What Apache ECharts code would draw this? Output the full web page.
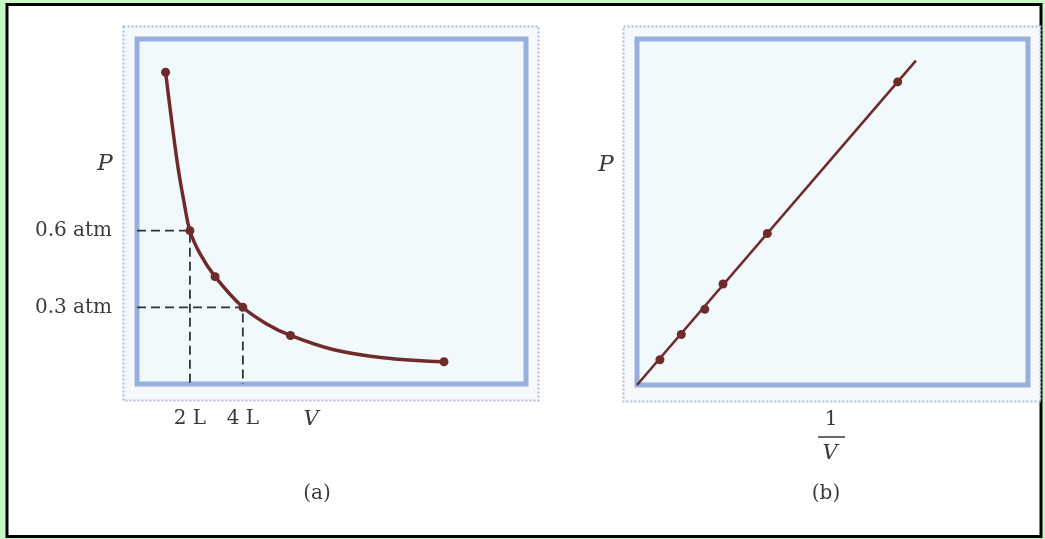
<!DOCTYPE html>
<html>
<head>
<meta charset="utf-8">
<script src="https://cdn.jsdelivr.net/npm/echarts@6/dist/echarts.min.js"></script>
<style>
html,body{margin:0;padding:0;background:#fff;}
#c{width:1045px;height:539px;}
</style>
</head>
<body>
<div id="c"></div>
<script>
// Panel (a): marked points, P versus V
const aVolume   = [1.08, 2, 2.95, 4, 5.8, 11.6];
const aPressure = [1.22, 0.6, 0.42, 0.3, 0.19, 0.087];
// Panel (a): positions along the drawn curve
const aCurveV = [1.08, 1.31, 1.56, 1.78, 2.0, 2.38, 2.95, 4.0, 4.9, 5.8, 7.4, 9.3, 11.6];
const aCurveP = [1.22, 1.03, 0.84, 0.71, 0.6, 0.51, 0.42, 0.3, 0.235, 0.19, 0.135, 0.103, 0.087];
// dashed guide lines in (a)
const aGuideV = [2, 4];
const aGuideP = [0.6, 0.3];
// Panel (b): P versus 1/V
const bInvVolume = [0.088, 0.17, 0.26, 0.33, 0.5, 1.0];
const bPressure  = [0.1, 0.2, 0.3, 0.4, 0.6, 1.2];
// straight line through origin in (b)
const bLineX = [0, 1.07];
const bLineP = [0, 1.284];
// tick labels
const aYTickValues = [0.3, 0.6];
const aYTickLabels = ['0.3 atm', '0.6 atm'];
const aXTickValues = [2, 4];
const aXTickLabels = ['2 L', '4 L'];

const serif = "'DejaVu Serif','Liberation Serif',serif";
const curveColor = '#712a2a';
const blue = '#96b0de';
const textColor = '#3a3a3a';

function lookup(vals, labels, v) {
  for (let i = 0; i < vals.length; i++) if (Math.abs(vals[i] - v) < 1e-6) return labels[i];
  return '';
}

const guideSeries = aGuideV.map((v, i) => ({
  type: 'line', xAxisIndex: 0, yAxisIndex: 0,
  data: [[0, aGuideP[i]], [v, aGuideP[i]], [v, 0]],
  symbol: 'none', silent: true, z: 1,
  lineStyle: { color: '#333333', width: 1.8, type: [9, 5] }
}));

const chart = echarts.init(document.getElementById('c'), null, { renderer: 'canvas' });
chart.setOption({
  animation: false,
  backgroundColor: '#ffffff',
  grid: [
    { left: 137, top: 39, width: 389, height: 345, show: true, borderColor: blue, borderWidth: 5, backgroundColor: '#f1f9fc' },
    { left: 637, top: 39, width: 391, height: 346, show: true, borderColor: blue, borderWidth: 5, backgroundColor: '#f1f9fc' }
  ],
  xAxis: [
    { type: 'value', gridIndex: 0, min: 0, max: 14.7, interval: 2,
      axisLine: { show: false }, axisTick: { show: false }, splitLine: { show: false },
      axisLabel: { margin: 25, fontFamily: serif, fontSize: 20, color: textColor,
        formatter: v => lookup(aXTickValues, aXTickLabels, v) } },
    { type: 'value', gridIndex: 1, min: 0, max: 1.5,
      axisLine: { show: false }, axisTick: { show: false }, splitLine: { show: false },
      axisLabel: { show: false } }
  ],
  yAxis: [
    { type: 'value', gridIndex: 0, min: 0, max: 1.35, interval: 0.3,
      axisLine: { show: false }, axisTick: { show: false }, splitLine: { show: false },
      axisLabel: { margin: 25, fontFamily: serif, fontSize: 20, color: textColor,
        formatter: v => lookup(aYTickValues, aYTickLabels, v) } },
    { type: 'value', gridIndex: 1, min: 0, max: 1.37,
      axisLine: { show: false }, axisTick: { show: false }, splitLine: { show: false },
      axisLabel: { show: false } }
  ],
  series: guideSeries.concat([
    { type: 'line', xAxisIndex: 0, yAxisIndex: 0, z: 2,
      data: aCurveV.map((v, i) => [v, aCurveP[i]]),
      smooth: 0.35, symbol: 'none',
      lineStyle: { color: curveColor, width: 3.5, cap: 'round' } },
    { type: 'scatter', xAxisIndex: 0, yAxisIndex: 0, z: 3,
      data: aVolume.map((v, i) => [v, aPressure[i]]),
      symbol: 'circle', symbolSize: 9,
      itemStyle: { color: curveColor, opacity: 1 } },
    { type: 'line', xAxisIndex: 1, yAxisIndex: 1, z: 2,
      data: bLineX.map((v, i) => [v, bLineP[i]]),
      symbol: 'none',
      lineStyle: { color: curveColor, width: 2.6 } },
    { type: 'scatter', xAxisIndex: 1, yAxisIndex: 1, z: 3,
      data: bInvVolume.map((v, i) => [v, bPressure[i]]),
      symbol: 'circle', symbolSize: 9,
      itemStyle: { color: curveColor, opacity: 1 } }
  ]),
  graphic: [
    // page frame
    { type: 'rect', z: -30, silent: true, shape: { x: 0, y: 0, width: 1045, height: 539 }, style: { fill: '#c8f8c8' } },
    { type: 'rect', z: -29, silent: true, shape: { x: 7, y: 4.5, width: 1034, height: 532 },
      style: { fill: '#ffffff', stroke: '#000000', lineWidth: 3 } },
    // outer dotted panel frames
    { type: 'rect', z: -28, silent: true, shape: { x: 123.5, y: 26.5, width: 415, height: 374 },
      style: { fill: '#f6f9fc', stroke: '#a9b9d6', lineWidth: 2, lineDash: [2, 2] } },
    { type: 'rect', z: -28, silent: true, shape: { x: 623.5, y: 26.5, width: 417, height: 375 },
      style: { fill: '#f6f9fc', stroke: '#a9b9d6', lineWidth: 2, lineDash: [2, 2] } },
    // axis names and captions
    { type: 'text', x: 105, y: 164, style: { text: 'P', fontFamily: serif, fontStyle: 'italic', fontSize: 23, fill: textColor, align: 'center', verticalAlign: 'middle' } },
    { type: 'text', x: 311, y: 420, style: { text: 'V', fontFamily: serif, fontStyle: 'italic', fontSize: 21, fill: textColor, align: 'center', verticalAlign: 'middle' } },
    { type: 'text', x: 317, y: 494, style: { text: '(a)', fontFamily: serif, fontSize: 20, fill: textColor, align: 'center', verticalAlign: 'middle' } },
    { type: 'text', x: 606, y: 165, style: { text: 'P', fontFamily: serif, fontStyle: 'italic', fontSize: 23, fill: textColor, align: 'center', verticalAlign: 'middle' } },
    { type: 'text', x: 831, y: 420, style: { text: '1', fontFamily: serif, fontSize: 20, fill: textColor, align: 'center', verticalAlign: 'middle' } },
    { type: 'line', shape: { x1: 818, y1: 437, x2: 845, y2: 437 }, style: { stroke: textColor, lineWidth: 1.5 } },
    { type: 'text', x: 830, y: 454, style: { text: 'V', fontFamily: serif, fontStyle: 'italic', fontSize: 21, fill: textColor, align: 'center', verticalAlign: 'middle' } },
    { type: 'text', x: 826, y: 494, style: { text: '(b)', fontFamily: serif, fontSize: 20, fill: textColor, align: 'center', verticalAlign: 'middle' } }
  ]
});
</script>
</body>
</html>
